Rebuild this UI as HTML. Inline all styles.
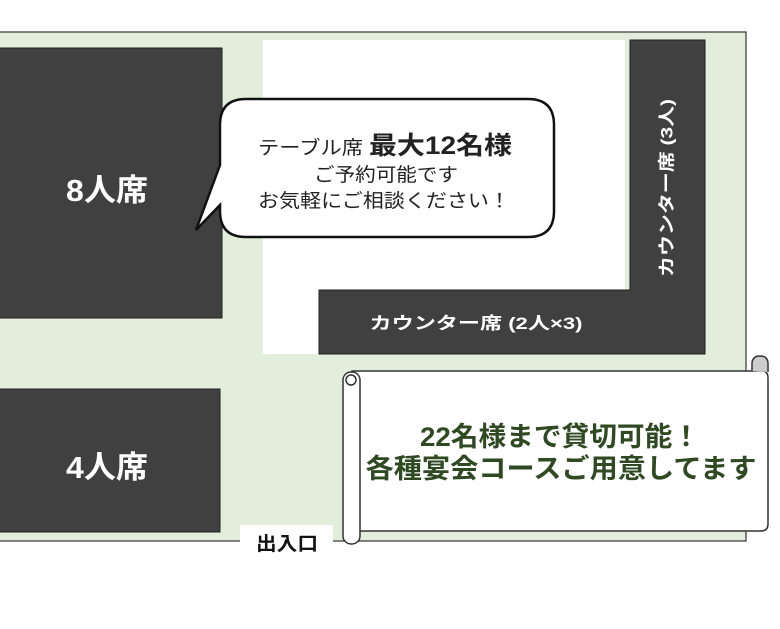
<!DOCTYPE html>
<html><head><meta charset="utf-8"><style>
html,body{margin:0;padding:0;background:#fff;}
svg{display:block;}
text{font-family:"Liberation Sans","Noto Sans CJK JP",sans-serif;}
</style></head><body>
<svg width="780" height="629" viewBox="0 0 780 629">
<rect x="-2" y="32" width="748" height="509" fill="#e2eedb" stroke="#333" stroke-width="1.2"/>
<rect x="263" y="40" width="362" height="314" fill="#fff"/>
<rect x="-2" y="48" width="224" height="270" fill="#404040" stroke="#222"/>
<text x="107" y="201" font-size="31" fill="#fff" text-anchor="middle" font-weight="bold" textLength="82" lengthAdjust="spacingAndGlyphs">8人席</text>
<rect x="-2" y="389" width="222" height="143" fill="#404040" stroke="#222"/>
<text x="107" y="478" font-size="31" fill="#fff" text-anchor="middle" font-weight="bold" textLength="82" lengthAdjust="spacingAndGlyphs">4人席</text>
<path d="M630 40 H705 V354 H319 V290 H630 Z" fill="#404040" stroke="#222"/>
<text x="476" y="329" font-size="17" fill="#fff" text-anchor="middle" font-weight="bold" textLength="213" lengthAdjust="spacingAndGlyphs">カウンター席 (2人×3)</text>
<text transform="translate(668,188) rotate(-90)" font-size="17" fill="#fff" text-anchor="middle" dominant-baseline="middle" font-weight="bold" textLength="178" lengthAdjust="spacingAndGlyphs">カウンター席 (3人)</text>
<path d="M246 99 H528 Q554 99 554 125 V211 Q554 237 528 237 H246 Q220 237 220 211 V205 L196 230 L220 165 V125 Q220 99 246 99 Z" fill="#fff" stroke="#111" stroke-width="2.5"/>
<text x="258" y="154" fill="#222" textLength="254" lengthAdjust="spacingAndGlyphs"><tspan font-size="19">テーブル席 </tspan><tspan font-size="25" font-weight="bold">最大12名様</tspan></text>
<text x="386" y="181" font-size="19" text-anchor="middle" fill="#222" textLength="144" lengthAdjust="spacingAndGlyphs">ご予約可能です</text>
<text x="384" y="207" font-size="19" text-anchor="middle" fill="#222" textLength="252" lengthAdjust="spacingAndGlyphs">お気軽にご相談ください！</text>
<rect x="240" y="525" width="93" height="36" fill="#fff"/>
<text x="287" y="550" font-size="19" text-anchor="middle" font-weight="bold" fill="#111" textLength="62" lengthAdjust="spacingAndGlyphs">出入口</text>
<g stroke="#333" stroke-width="1.5" fill="#fff">
<path d="M352 371 H762 Q768 371 768 378 V524 Q768 531 761 531 H352 Z"/>
<rect x="343" y="372" width="17" height="172" rx="8"/>
<path d="M752 371 V364 Q752 356 760 356 Q768 356 768 364 V372" fill="#ccc"/>
<circle cx="351" cy="380" r="5" fill="#fff"/>
</g>
<text x="560" y="446" font-size="27" font-weight="bold" text-anchor="middle" fill="#2f4a22" textLength="280" lengthAdjust="spacingAndGlyphs">22名様まで貸切可能！</text>
<text x="561" y="478" font-size="27" font-weight="bold" text-anchor="middle" fill="#2f4a22" textLength="391" lengthAdjust="spacingAndGlyphs">各種宴会コースご用意してます</text>
</svg>
</body></html>
